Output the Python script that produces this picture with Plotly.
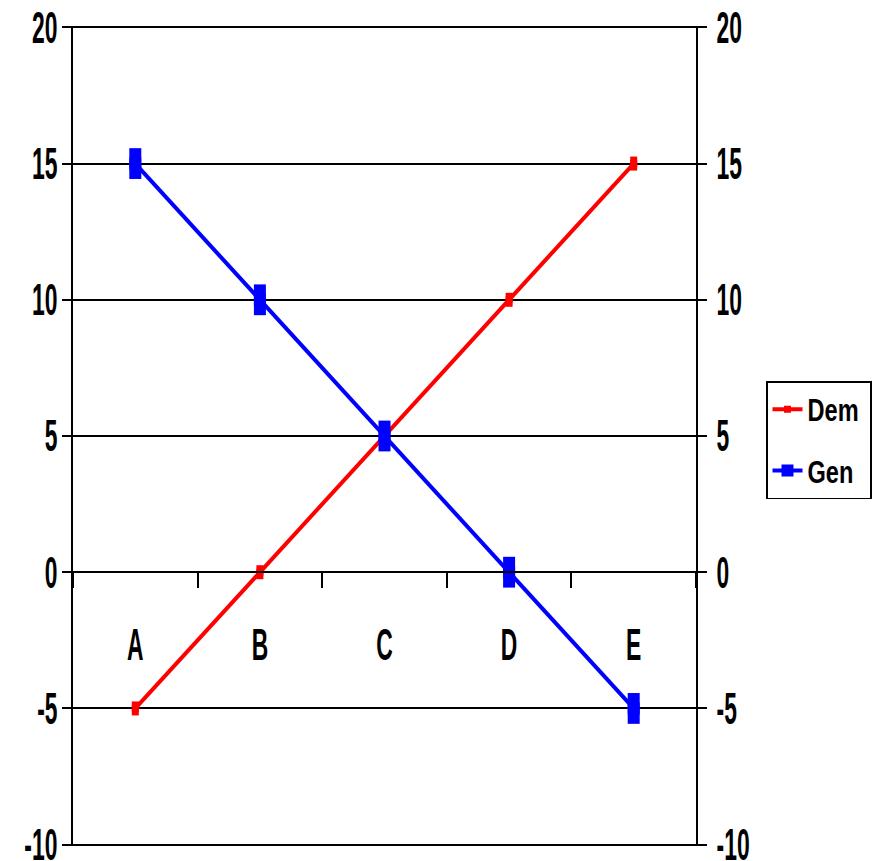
import plotly.graph_objects as go

# Chart data
categories = ["A", "B", "C", "D", "E"]
dem_values = [-5, 0, 5, 10, 15]
gen_values = [15, 10, 5, 0, -5]
y_tick_values = [-10, -5, 0, 5, 10, 15, 20]
y_tick_labels = ["-10", "-5", "0", "5", "10", "15", "20"]

RED = "#FF0000"
BLUE = "#0000FF"
FONT = "Liberation Sans, Arial, sans-serif"
label_font = dict(family=FONT, size=44, color="black", weight="bold")

fig = go.Figure()

# Dem: red line with small square markers (shown in the legend)
fig.add_trace(go.Scatter(
    x=categories, y=dem_values, name="Dem", legendgroup="dem", mode="lines+markers",
    line=dict(color=RED, width=4),
    marker=dict(symbol="square", size=7, color=RED, line=dict(width=0)),
))
# taller-than-wide marker blocks on the Dem points
fig.add_trace(go.Scatter(
    x=categories, y=dem_values, mode="markers", showlegend=False, hoverinfo="skip",
    marker=dict(symbol="line-ns", size=10, color=RED, line=dict(color=RED, width=7)),
))
# Gen: blue line with square markers
fig.add_trace(go.Scatter(
    x=categories, y=gen_values, name="Gen", legendgroup="gen", mode="lines+markers",
    line=dict(color=BLUE, width=4),
    marker=dict(symbol="square", size=12, color=BLUE, line=dict(width=0)),
))
fig.add_trace(go.Scatter(
    x=categories, y=gen_values, mode="markers", showlegend=False, hoverinfo="skip",
    marker=dict(symbol="line-ns", size=22, color=BLUE, line=dict(color=BLUE, width=12)),
))
# secondary (right-hand) value axis carries the same scale
fig.add_trace(go.Scatter(
    x=categories, y=gen_values, yaxis="y2", mode="none", showlegend=False, hoverinfo="skip",
))

Y_LO, Y_HI = -10.05, 20.05
y_common = dict(
    range=[Y_LO, Y_HI], tickmode="array", tickvals=y_tick_values, ticktext=y_tick_labels,
    ticks="outside", ticklen=9, tickwidth=1.5, tickcolor="black",
    showline=True, linecolor="black", linewidth=1.5,
    zeroline=False, tickfont=label_font, automargin=False,
    ticklabeloverflow="allow", fixedrange=True,
)

M_L, M_R, M_T, M_B = 73, 180, 26, 15
W, H = 876, 861
plot_w = W - M_L - M_R
plot_h = H - M_T - M_B

fig.update_layout(
    width=W, height=H,
    margin=dict(l=M_L, r=M_R, t=M_T, b=M_B, autoexpand=False),
    paper_bgcolor="white", plot_bgcolor="white",
    showlegend=True,
    xaxis=dict(
        type="category", categoryarray=categories, range=[-0.5, 4.5],
        anchor="free", position=(0 - Y_LO) / (Y_HI - Y_LO),
        showline=True, linecolor="black", linewidth=1.5,
        ticks="outside", ticklen=15, tickwidth=1.5, tickcolor="black",
        tickson="boundaries", showgrid=False, zeroline=False,
        tickfont=label_font, ticklabelstandoff=34, automargin=False,
        ticklabeloverflow="allow", tickangle=0, fixedrange=True,
    ),
    yaxis=dict(**y_common, showgrid=True, gridcolor="black", gridwidth=1.5,
               side="left", ticklabelstandoff=-4),
    yaxis2=dict(**y_common, showgrid=False, overlaying="y", side="right",
                anchor="x", ticklabelstandoff=1),
    legend=dict(
        x=(766 - M_L) / plot_w, y=(H - M_B - 381) / plot_h, xanchor="left", yanchor="top",
        bgcolor="white", bordercolor="black", borderwidth=1.5,
        font=dict(family=FONT, size=31, color="black", weight="bold"),
        tracegroupgap=18,
    ),
)

# Narrow, tall lettering: compress the glyphs horizontally, then
# shrink the legend box to the narrower entry text
squeeze_js = """
var gd = document.getElementById('{plot_id}');
gd.querySelectorAll('.xtick text, .ytick text, .y2tick text').forEach(function (t) {
    var w = t.getComputedTextLength();
    t.setAttribute('textLength', (w * 0.52).toFixed(1));
    t.setAttribute('lengthAdjust', 'spacingAndGlyphs');
});
var lf = 0.76, maxW = 0;
gd.querySelectorAll('.legend .legendtext').forEach(function (t) {
    var w = t.getComputedTextLength();
    maxW = Math.max(maxW, w);
    t.setAttribute('textLength', (w * lf).toFixed(1));
    t.setAttribute('lengthAdjust', 'spacingAndGlyphs');
});
var bg = gd.querySelector('.legend rect.bg');
if (bg) {
    var bw = parseFloat(bg.getAttribute('width'));
    bg.setAttribute('width', (bw - maxW * (1 - lf) + 6).toFixed(1));
}
"""

fig.write_html("out.html", post_script=squeeze_js)
